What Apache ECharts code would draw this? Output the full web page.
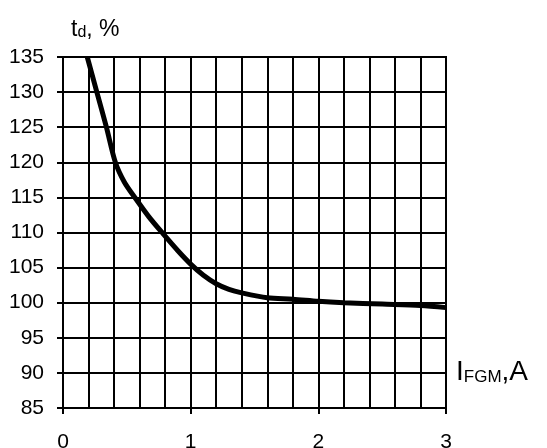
<!DOCTYPE html>
<html>
<head>
<meta charset="utf-8">
<script src="https://cdn.jsdelivr.net/npm/echarts@6/dist/echarts.min.js"></script>
<style>html,body{margin:0;padding:0;background:#fff}#c{width:547px;height:448px}</style>
</head>
<body>
<div id="c"></div>
<script>
var currentA = [0.19, 0.265, 0.34, 0.41, 0.48, 0.57, 0.67, 0.78, 0.9, 1.0, 1.1, 1.2, 1.3, 1.4, 1.6, 1.8, 2.0, 2.2, 2.5, 2.8, 3.0];
var tdPercent = [135, 130, 125, 120, 117.2, 114.8, 112.3, 109.9, 107.4, 105.5, 103.9, 102.7, 101.9, 101.4, 100.7, 100.5, 100.2, 100.0, 99.8, 99.6, 99.3];
var yTicks = [85, 90, 95, 100, 105, 110, 115, 120, 125, 130, 135];
var xTicks = [0, 1, 2, 3];

var chart = echarts.init(document.getElementById('c'), null, {renderer: 'canvas'});
var font = 'Liberation Sans, Arial, sans-serif';
var pts = currentA.map(function (x, i) { return [x, tdPercent[i]]; });
chart.setOption({
  animation: false,
  backgroundColor: '#fff',
  title: [{
    text: '{a|t}{b|d}{a|, %}', left: 71, top: 18, padding: 0,
    textStyle: {
      rich: {
        a: {fontFamily: font, fontSize: 23, fontWeight: 'normal', color: '#000', verticalAlign: 'bottom'},
        b: {fontFamily: font, fontSize: 16, fontWeight: 'normal', color: '#000', verticalAlign: 'bottom'}
      }
    }
  }, {
    text: '{a|I}{b|FGM}{a|,A}', left: 456, top: 358, padding: 0,
    textStyle: {
      rich: {
        a: {fontFamily: font, fontSize: 28, fontWeight: 'normal', color: '#000', verticalAlign: 'bottom'},
        b: {fontFamily: font, fontSize: 17, fontWeight: 'normal', color: '#000', verticalAlign: 'bottom'}
      }
    }
  }],
  grid: {left: 63, right: 101, top: 57, bottom: 40, outerBoundsMode: 'none', containLabel: false,
    show: true, borderColor: '#000', borderWidth: 2, backgroundColor: 'transparent'},
  xAxis: [{
    type: 'value', min: xTicks[0], max: xTicks[xTicks.length - 1], interval: 1, position: 'bottom',
    axisLine: {show: true, lineStyle: {color: '#000', width: 2}},
    axisTick: {show: true, length: 6, lineStyle: {color: '#000', width: 2}},
    axisLabel: {color: '#000', fontFamily: font, fontSize: 21, margin: 24},
    splitLine: {show: false}
  }, {
    type: 'value', min: 0, max: 3, interval: 0.2, position: 'bottom',
    axisLine: {show: false}, axisTick: {show: false}, axisLabel: {show: false},
    splitLine: {show: true, lineStyle: {color: '#000', width: 2}}
  }],
  yAxis: {
    type: 'value', min: yTicks[0], max: yTicks[yTicks.length - 1], interval: 5,
    axisLine: {show: true, lineStyle: {color: '#000', width: 2}},
    axisTick: {show: true, length: 6, lineStyle: {color: '#000', width: 2}},
    axisLabel: {color: '#000', fontFamily: font, fontSize: 21, margin: 19},
    splitLine: {show: true, lineStyle: {color: '#000', width: 2}}
  },
  series: [{
    type: 'line', xAxisIndex: 0, data: pts, smooth: 0.3, symbol: 'none',
    lineStyle: {color: '#000', width: 5}
  }]
});
</script>
</body>
</html>
